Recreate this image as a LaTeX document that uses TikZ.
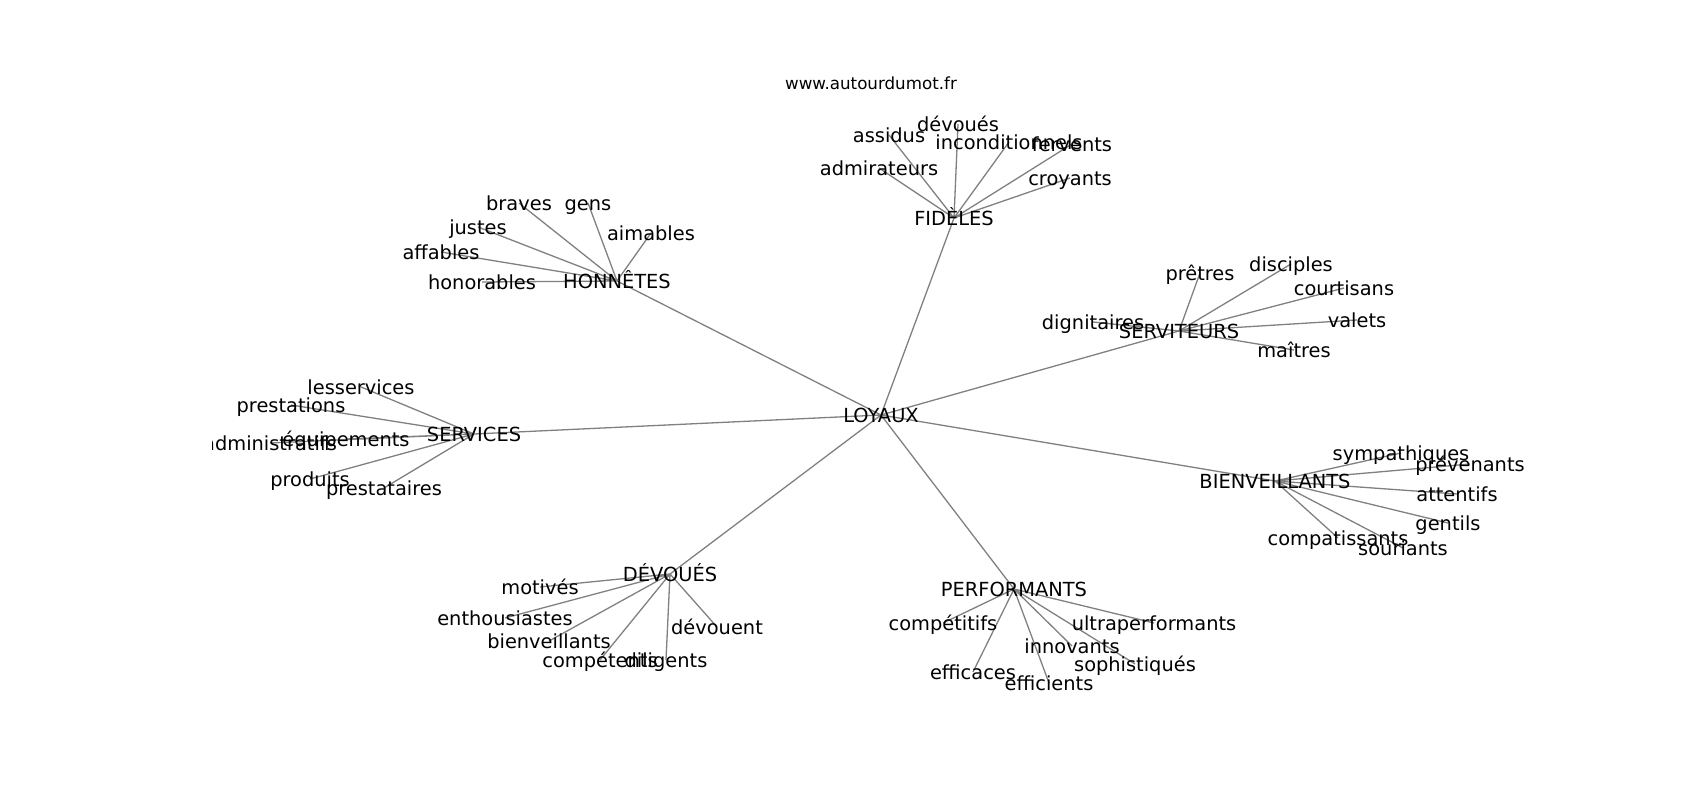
\documentclass[tikz,border=0pt]{standalone}
\usepackage{fontspec}
\setmainfont{DejaVu Sans}
\usetikzlibrary{backgrounds}

\begin{document}
\begin{tikzpicture}[x=1pt, y=-1pt,
        word/.style={inner sep=0pt, text height=19pt, text depth=4.6pt, font=\fontsize{19.4}{23}\selectfont},
        link/.style={draw=gray, line width=1.3pt}]
        \useasboundingbox (0, 0) rectangle (1700, 800);
        \node[font=\fontsize{16.7}{20}\selectfont] (titre) at (871, 83) {www.autourdumot.fr};

        \begin{scope}
        \clip (212.5, 96) rectangle (1530, 712);
        \node[word] (loyaux) at (881, 415) {LOYAUX};

        \node[word] (fideles) at (954, 218) {FIDÈLES};
        \node[word] (assidus) at (889, 135) {assidus};
        \node[word] (devoues) at (958, 124) {dévoués};
        \node[word] (incond) at (1009, 142) {inconditionnels};
        \node[word] (fervents) at (1072, 144) {fervents};
        \node[word] (admirateurs) at (879, 168) {admirateurs};
        \node[word] (croyants) at (1070, 178) {croyants};

        \node[word] (honnetes) at (617, 281) {HONNÊTES};
        \node[word] (braves) at (519, 203) {braves};
        \node[word] (gens) at (588, 203) {gens};
        \node[word] (justes) at (478, 227) {justes};
        \node[word] (aimables) at (651, 233) {aimables};
        \node[word] (affables) at (441, 252) {affables};
        \node[word] (honorables) at (482, 282) {honorables};

        \node[word] (serviteurs) at (1179, 331) {SERVITEURS};
        \node[word] (pretres) at (1200, 273) {prêtres};
        \node[word] (disciples) at (1291, 264) {disciples};
        \node[word] (courtisans) at (1344, 288) {courtisans};
        \node[word] (dignitaires) at (1093, 322) {dignitaires};
        \node[word] (valets) at (1357, 320) {valets};
        \node[word] (maitres) at (1294, 350) {maîtres};

        \node[word] (services) at (474, 434) {SERVICES};
        \node[word] (lesservices) at (361, 387) {lesservices};
        \node[word] (prestations) at (291, 405) {prestations};
        \node[word] (equipements) at (346, 439) {équipements};
        \node[word] (admin) at (270, 443) {administratifs};
        \node[word] (produits) at (310, 479) {produits};
        \node[word] (prestataires) at (384, 488) {prestataires};

        \node[word] (bienv) at (1275, 481) {BIENVEILLANTS};
        \node[word] (sympathiques) at (1401, 453) {sympathiques};
        \node[word] (prevenants) at (1470, 464) {prévenants};
        \node[word] (attentifs) at (1457, 494) {attentifs};
        \node[word] (gentils) at (1448, 523) {gentils};
        \node[word] (compatissants) at (1338, 538) {compatissants};
        \node[word] (souriants) at (1403, 548) {souriants};

        \node[word] (dvoues) at (670, 574) {DÉVOUÉS};
        \node[word] (motives) at (540, 587) {motivés};
        \node[word] (enthousiastes) at (505, 618) {enthousiastes};
        \node[word] (bienveillants) at (549, 641) {bienveillants};
        \node[word] (competents) at (600, 660) {compétents};
        \node[word] (diligents) at (666, 660) {diligents};
        \node[word] (devouent) at (717, 627) {dévouent};

        \node[word] (perf) at (1014, 589) {PERFORMANTS};
        \node[word] (competitifs) at (943, 623) {compétitifs};
        \node[word] (ultra) at (1154, 623) {ultraperformants};
        \node[word] (innovants) at (1072, 646) {innovants};
        \node[word] (sophistiques) at (1135, 664) {sophistiqués};
        \node[word] (efficaces) at (973, 672) {efficaces};
        \node[word] (efficients) at (1049, 683) {efficients};
        \end{scope}

        \begin{scope}[on background layer]
        \draw[link] (loyaux.center) to (fideles.center)
            (loyaux.center) to (honnetes.center)
            (loyaux.center) to (serviteurs.center)
            (loyaux.center) to (services.center)
            (loyaux.center) to (bienv.center)
            (loyaux.center) to (dvoues.center)
            (loyaux.center) to (perf.center);

        \draw[link] (fideles.center) to (assidus.center)
            (fideles.center) to (devoues.center)
            (fideles.center) to (incond.center)
            (fideles.center) to (fervents.center)
            (fideles.center) to (admirateurs.center)
            (fideles.center) to (croyants.center);

        \draw[link] (honnetes.center) to (braves.center)
            (honnetes.center) to (gens.center)
            (honnetes.center) to (justes.center)
            (honnetes.center) to (aimables.center)
            (honnetes.center) to (affables.center)
            (honnetes.center) to (honorables.center);

        \draw[link] (serviteurs.center) to (pretres.center)
            (serviteurs.center) to (disciples.center)
            (serviteurs.center) to (courtisans.center)
            (serviteurs.center) to (dignitaires.center)
            (serviteurs.center) to (valets.center)
            (serviteurs.center) to (maitres.center);

        \draw[link] (services.center) to (lesservices.center)
            (services.center) to (prestations.center)
            (services.center) to (equipements.center)
            (services.center) to (admin.center)
            (services.center) to (produits.center)
            (services.center) to (prestataires.center);

        \draw[link] (bienv.center) to (sympathiques.center)
            (bienv.center) to (prevenants.center)
            (bienv.center) to (attentifs.center)
            (bienv.center) to (gentils.center)
            (bienv.center) to (compatissants.center)
            (bienv.center) to (souriants.center);

        \draw[link] (dvoues.center) to (motives.center)
            (dvoues.center) to (enthousiastes.center)
            (dvoues.center) to (bienveillants.center)
            (dvoues.center) to (competents.center)
            (dvoues.center) to (diligents.center)
            (dvoues.center) to (devouent.center);

        \draw[link] (perf.center) to (competitifs.center)
            (perf.center) to (ultra.center)
            (perf.center) to (innovants.center)
            (perf.center) to (sophistiques.center)
            (perf.center) to (efficaces.center)
            (perf.center) to (efficients.center);
        \end{scope}
    \end{tikzpicture}
\end{document}
